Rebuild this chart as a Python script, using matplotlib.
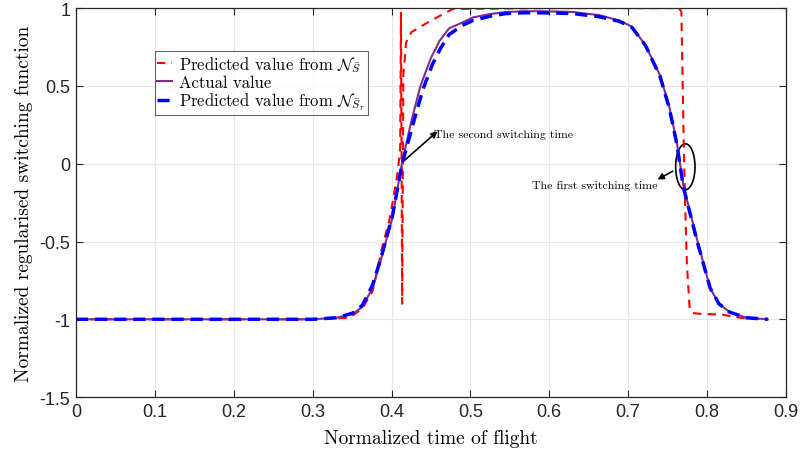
import matplotlib
matplotlib.use('Agg')
import matplotlib.pyplot as plt
from matplotlib.patches import Ellipse

plt.rcParams['mathtext.fontset'] = 'cm'
plt.rcParams['axes.unicode_minus'] = False
plt.rcParams['axes.formatter.use_mathtext'] = False

# actual switching function
t_act = [0, 0.1, 0.2, 0.3, 0.33, 0.351, 0.363, 0.376, 0.387, 0.395, 0.401,
         0.4135, 0.425, 0.4367, 0.45, 0.461, 0.473, 0.491, 0.503, 0.525, 0.545,
         0.567, 0.587, 0.61, 0.63, 0.663, 0.689, 0.705, 0.722, 0.7405, 0.752,
         0.7616, 0.770, 0.787, 0.804, 0.815, 0.829, 0.85, 0.877]
s_act = [-1, -1, -1, -1, -0.99, -0.965, -0.92, -0.80, -0.61, -0.46, -0.35,
         0.01, 0.27, 0.50, 0.68, 0.79, 0.87, 0.91, 0.94, 0.962, 0.975,
         0.98, 0.98, 0.978, 0.975, 0.955, 0.92, 0.88, 0.76, 0.567, 0.37,
         0.14, -0.14, -0.48, -0.80, -0.90, -0.955, -0.99, -1.0]

# prediction from N_S (red)
t_red = [0, 0.1, 0.2, 0.3, 0.347, 0.363, 0.376, 0.389, 0.397, 0.4, 0.408,
         0.411, 0.412, 0.4135, 0.415, 0.4185, 0.425, 0.45, 0.478, 0.6, 0.7646,
         0.7675, 0.7702, 0.772, 0.7745, 0.778, 0.782, 0.792, 0.819, 0.836,
         0.85, 0.877]
s_red = [-1, -1, -1, -1, -0.99, -0.93, -0.82, -0.52, -0.37, -0.29, -0.05,
         0.1, 0.97, -0.9, 0.57, 0.78, 0.845, 0.92, 0.995, 1.0, 1.0,
         0.975, 0.2, -0.22, -0.65, -0.93, -0.96, -0.965, -0.97, -0.985,
         -0.995, -1.0]

# prediction from N_Sr (blue)
t_blue = [0, 0.1, 0.2, 0.3, 0.33, 0.351, 0.363, 0.376, 0.387, 0.395, 0.401,
          0.4135, 0.427, 0.44, 0.452, 0.462, 0.473, 0.49, 0.503, 0.525, 0.545,
          0.567, 0.587, 0.61, 0.63, 0.663, 0.689, 0.705, 0.722, 0.7405, 0.752,
          0.7616, 0.770, 0.787, 0.804, 0.815, 0.829, 0.85, 0.877]
s_blue = [-1, -1, -1, -1, -0.99, -0.96, -0.91, -0.78, -0.60, -0.45, -0.34,
          0.0, 0.25, 0.48, 0.64, 0.74, 0.83, 0.89, 0.92, 0.948, 0.965,
          0.97, 0.97, 0.968, 0.965, 0.945, 0.915, 0.875, 0.76, 0.56, 0.36,
          0.13, -0.15, -0.49, -0.80, -0.90, -0.955, -0.99, -1.0]

fig = plt.figure(figsize=(8.04, 4.56), dpi=100)
ax = fig.add_axes([0.0945, 0.127, 0.883, 0.853])

ax.plot(t_red, s_red, color='r', ls=(0, (4, 3)), lw=1.5,
        label=r'Predicted value from $\mathcal{N}_{\bar{S}}$')
ax.plot(t_act, s_act, color='#7E2F8E', lw=1.5, label='Actual value')
ax.plot(t_blue, s_blue, color='b', ls=(0, (3.5, 2)), lw=2.5,
        label=r'Predicted value from $\mathcal{N}_{\bar{S}_r}$')

ax.set_xlim(0, 0.9)
ax.set_ylim(-1.5, 1)
ax.set_xticks([0, 0.1, 0.2, 0.3, 0.4, 0.5, 0.6, 0.7, 0.8, 0.9])
ax.set_xticklabels(['0', '0.1', '0.2', '0.3', '0.4', '0.5', '0.6', '0.7', '0.8', '0.9'])
ax.set_yticks([-1.5, -1, -0.5, 0, 0.5, 1])
ax.set_yticklabels(['-1.5', '-1', '-0.5', '0', '0.5', '1'])
tickfont = ['Liberation Sans Narrow', 'Liberation Sans', 'DejaVu Sans']
for lab in ax.get_xticklabels() + ax.get_yticklabels():
    lab.set_family(tickfont)
    lab.set_fontsize(13)
ax.tick_params(direction='in', top=True, right=True, length=5, width=0.8,
               colors='#262626', pad=4)
for sp in ax.spines.values():
    sp.set_color('#262626')
    sp.set_linewidth(0.9)
ax.grid(True, color='#e6e6e6', lw=0.8)
ax.set_axisbelow(True)

ax.set_xlabel('Normalized time of flight', family='cmr10', fontsize=14, labelpad=7)
ax.set_ylabel('Normalized regularised switching function', family='cmr10',
              fontsize=14, labelpad=5)

leg = ax.legend(loc='upper left', bbox_to_anchor=(0.111, 0.889), fancybox=False,
                handlelength=0.9, handletextpad=0.4, borderpad=0.15,
                labelspacing=0.05, borderaxespad=0,
                prop={'family': 'cmr10', 'size': 12})
leg.get_frame().set_edgecolor('#404040')
leg.get_frame().set_linewidth(0.8)

ax.add_patch(Ellipse((0.7725, -0.02), 0.0245, 0.296, fill=False, color='k', lw=1.2))
ax.annotate('', xy=(0.461, 0.22), xytext=(0.4139, 0.01),
            arrowprops=dict(arrowstyle='-|>', color='k', lw=1.2, mutation_scale=9))
ax.text(0.454, 0.193, 'The second switching time', family='cmr10', fontsize=8.6,
        va='center', ha='left')
ax.annotate('', xy=(0.734, -0.11), xytext=(0.7595, -0.04),
            arrowprops=dict(arrowstyle='-|>', color='k', lw=1.2, mutation_scale=9))
ax.text(0.5785, -0.14, 'The first switching time', family='cmr10', fontsize=8.6,
        va='center', ha='left')

fig.savefig('out.png', dpi=100)
